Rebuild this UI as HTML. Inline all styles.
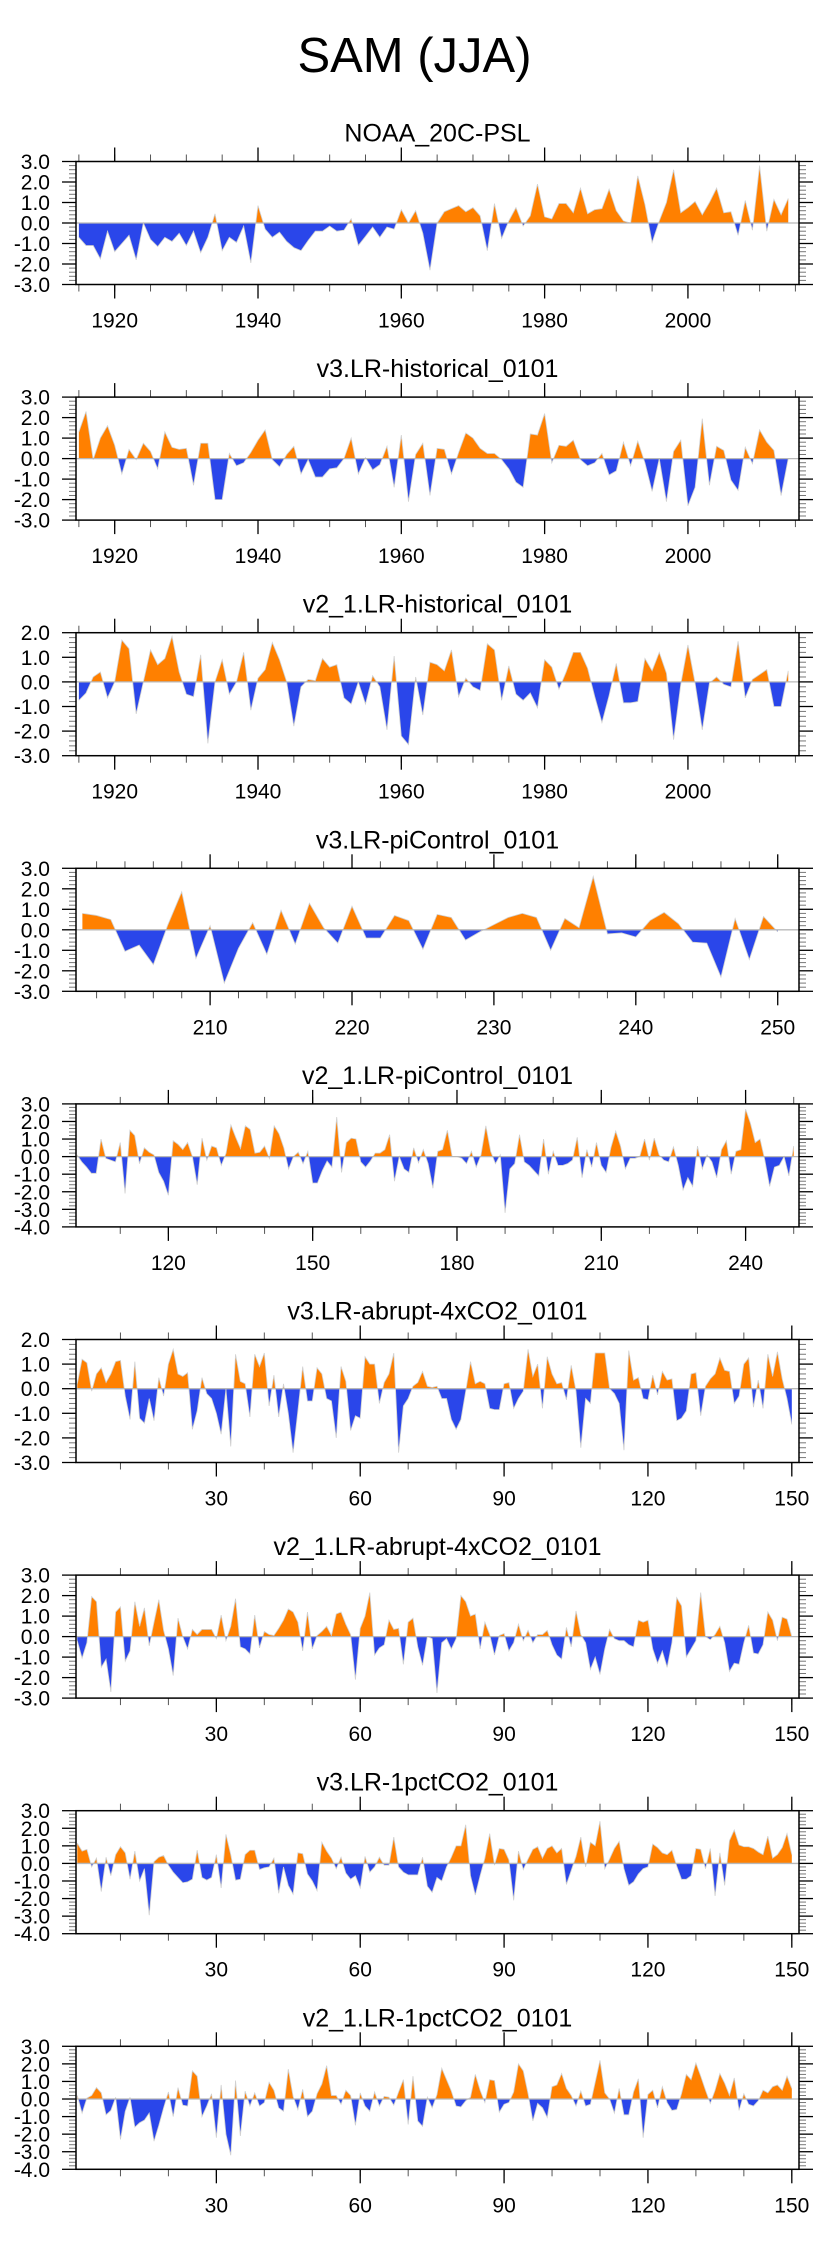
<!DOCTYPE html>
<html>
<head>
<meta charset="utf-8">
<title>SAM (JJA)</title>
<style>
  html, body { margin: 0; padding: 0; background: #ffffff; }
  body { width: 829px; height: 2245px; overflow: hidden; }
  svg { display: block; font-family: "Liberation Sans", sans-serif; }
</style>
</head>
<body>
<svg id="chart" xmlns="http://www.w3.org/2000/svg" width="829" height="2245" viewBox="0 0 829 2245">
  <rect x="0" y="0" width="829" height="2245" fill="#ffffff"/>
  <text x="414.5" y="72" text-anchor="middle" font-size="49" fill="#000">SAM (JJA)</text>
</svg>
<script>
const panelTitles = ["NOAA_20C-PSL","v3.LR-historical_0101","v2_1.LR-historical_0101","v3.LR-piControl_0101","v2_1.LR-piControl_0101","v3.LR-abrupt-4xCO2_0101","v2_1.LR-abrupt-4xCO2_0101","v3.LR-1pctCO2_0101","v2_1.LR-1pctCO2_0101"];

const histTickLabels = [1920,1940,1960,1980,2000];
const pi3TickLabels = [210,220,230,240,250];
const pi21TickLabels = [120,150,180,210,240];
const expTickLabels = [30,60,90,120,150];

const p1Values = [-0.7,-1.1,-1.1,-1.75,-0.4,-1.4,-1.0,-0.6,-1.8,0.0,-0.8,-1.15,-0.7,-0.9,-0.5,-1.1,-0.4,-1.45,-0.7,0.45,-1.35,-0.7,-0.95,-0.15,-1.95,0.85,-0.3,-0.7,-0.45,-0.9,-1.2,-1.35,-0.85,-0.4,-0.4,-0.15,-0.4,-0.35,0.2,-1.1,-0.65,-0.2,-0.7,-0.2,-0.3,0.65,0.0,0.6,-0.5,-2.3,0.0,0.55,0.7,0.85,0.55,0.75,0.35,-1.35,0.95,-0.75,0.1,0.75,-0.15,0.35,1.9,0.3,0.2,0.95,0.95,0.5,1.7,0.45,0.65,0.7,1.65,0.6,0.1,0.0,2.3,0.9,-0.95,0.1,1.0,2.6,0.5,0.75,1.05,0.4,1.0,1.7,0.5,0.55,-0.6,1.1,-0.35,2.8,-0.4,1.15,0.4,1.2];
const p2Values = [1.3,2.3,-0.05,1.0,1.6,0.65,-0.75,0.45,-0.05,0.75,0.35,-0.5,1.3,0.55,0.45,0.5,-1.3,0.75,0.75,-2.0,-2.0,0.25,-0.35,-0.2,0.3,0.9,1.4,-0.05,-0.4,0.2,0.6,-0.75,-0.05,-0.9,-0.9,-0.5,-0.45,0.0,1.0,-0.75,0.05,-0.55,-0.3,0.6,-1.4,1.15,-2.1,0.2,0.75,-1.8,0.5,0.45,-0.75,0.3,1.25,1.0,0.5,0.25,0.25,-0.05,-0.5,-1.15,-1.4,1.2,1.15,2.2,-0.2,0.65,0.6,0.9,-0.05,-0.35,-0.2,0.25,-0.8,-0.6,0.8,-0.35,0.85,-0.2,-1.6,0.0,-2.1,0.35,0.9,-2.3,-1.4,1.95,-1.3,0.6,0.4,-1.05,-1.55,0.55,-0.25,1.4,0.8,0.4,-1.8,0.0];
const p3Values = [-0.75,-0.45,0.2,0.4,-0.65,0.0,1.7,1.35,-1.3,0.0,1.3,0.7,0.95,1.85,0.4,-0.5,-0.6,1.1,-2.5,0.0,0.9,-0.5,0.0,1.2,-1.15,0.15,0.5,1.6,0.9,0.0,-1.8,-0.2,0.1,0.05,0.95,0.6,0.7,-0.65,-0.9,0.0,-0.9,0.25,-0.2,-1.95,1.05,-2.2,-2.55,0.2,-1.35,0.8,0.7,0.45,1.3,-0.6,0.15,-0.2,-0.35,1.55,1.3,-0.75,0.65,-0.5,-0.75,-0.45,-1.05,0.9,0.6,-0.3,0.4,1.2,1.2,0.55,-0.6,-1.65,-0.55,0.75,-0.85,-0.85,-0.8,0.95,0.45,1.2,0.35,-2.35,-0.1,1.5,-0.05,-1.95,-0.05,0.2,-0.1,-0.2,1.65,-0.65,0.1,0.3,0.5,-1.0,-1.0,0.45];
const p4Values = [0.8,0.7,0.5,-1.05,-0.75,-1.7,0.2,1.85,-1.4,0.2,-2.6,-0.9,0.35,-1.2,0.95,-0.7,1.3,0.1,-0.65,1.15,-0.4,-0.4,0.7,0.45,-0.95,0.75,0.6,-0.5,-0.1,0.25,0.6,0.8,0.6,-1.0,0.55,0.1,2.6,-0.2,-0.15,-0.35,0.45,0.85,0.3,-0.6,-0.65,-2.3,0.55,-1.45,0.65,-0.1];
const p5Values = [0.1,-0.3,-0.6,-0.95,-0.95,1.0,-0.1,-0.2,-0.3,0.8,-2.1,1.5,1.2,-0.4,0.5,0.25,0.1,-0.9,-1.4,-2.2,0.9,0.7,0.4,0.8,0.0,-1.6,1.05,-0.2,0.6,0.5,-0.5,0.2,1.8,1.1,0.45,1.75,1.55,0.2,0.25,0.6,-0.1,1.75,1.3,0.5,-0.7,0.0,0.25,-0.4,0.3,-1.5,-1.5,-0.8,-0.25,-0.6,2.25,-0.9,0.8,1.05,1.0,-0.3,-0.6,-0.25,0.2,0.2,0.4,1.25,-1.4,0.0,-0.7,-0.9,0.5,-0.35,0.4,-0.4,-1.8,0.3,0.4,1.5,0.0,0.0,-0.1,-0.4,0.3,-0.6,0.1,1.75,0.3,-0.4,0.1,-3.2,-0.7,-0.4,1.25,-0.3,-0.5,-0.8,-1.1,1.0,-1.0,0.3,-0.5,-0.5,-0.4,-0.2,1.1,-1.2,0.4,-0.6,0.8,-0.5,-0.9,0.5,1.45,0.6,-0.7,-0.1,-0.1,0.0,1.0,-0.2,1.05,0.1,-0.2,-0.3,0.55,-0.5,-1.9,-1.2,-1.7,0.6,-0.7,0.1,-0.3,-1.2,0.4,0.9,-1.0,0.3,0.4,2.7,1.9,0.8,1.0,-0.2,-1.7,-0.6,-0.5,0.0,-1.1,0.6];
const p6Values = [0.2,1.2,1.05,-0.1,0.6,0.85,0.25,0.6,1.1,1.15,-0.3,-1.25,1.1,-1.2,-1.4,-0.4,-1.3,0.45,-0.3,1.0,1.6,0.6,0.5,0.65,-1.65,-0.9,0.45,-0.2,-0.4,-1.0,-1.85,0.0,-2.35,1.4,0.3,0.2,-1.15,1.4,0.9,1.45,-0.7,0.55,-1.15,0.2,-1.0,-2.6,-0.9,0.9,-0.5,-0.5,0.85,0.6,-0.4,-0.5,-2.0,0.9,0.3,-1.7,-1.1,-1.2,1.3,1.0,1.0,-0.6,0.25,0.6,1.45,-2.6,-0.7,-0.4,0.1,0.25,0.7,0.1,0.05,0.1,-0.4,-0.4,-1.25,-1.65,-1.25,-0.1,1.1,0.2,0.3,0.2,-0.8,-0.85,-0.85,0.2,0.25,-0.8,-0.4,-0.1,1.6,0.5,1.0,-0.8,1.3,0.6,0.2,0.25,-0.45,0.95,-0.1,-2.4,-0.4,-0.6,1.45,1.45,1.45,0.0,-0.2,-0.6,-2.5,1.55,0.35,0.45,-0.4,-0.45,0.55,-0.25,0.7,0.35,0.4,-1.3,-1.2,-0.9,0.6,0.65,-1.1,0.1,0.4,0.6,1.25,0.75,0.7,-0.6,-0.3,1.0,1.25,-0.75,0.35,-0.8,1.4,0.5,1.5,0.4,-0.4,-1.45];
const p7Values = [-0.2,-1.05,-0.3,1.95,1.7,-1.5,-1.1,-2.7,1.2,1.45,-1.2,-0.7,1.7,0.5,1.4,-0.45,0.7,1.8,0.3,-0.6,-1.9,0.9,0.0,-0.6,0.35,0.1,0.35,0.35,0.35,-0.1,1.05,-0.2,0.5,1.85,-0.5,-0.6,-0.85,1.05,-0.55,0.25,0.1,0.05,0.4,0.8,1.35,1.2,0.7,-0.7,1.2,-0.6,0.05,0.25,0.5,0.05,1.1,1.2,0.6,0.1,-2.1,0.4,1.0,2.15,-0.9,-0.55,-0.4,0.8,0.35,0.4,-1.35,0.7,0.9,-0.5,-1.4,0.0,-0.1,-2.75,-0.3,-0.1,-0.6,-0.1,2.0,1.7,1.0,1.1,-0.6,0.7,0.1,-0.9,0.05,0.15,-0.7,-0.3,0.6,-0.2,0.3,-0.3,0.1,0.1,0.3,-0.4,-0.9,-1.1,0.45,-0.5,1.25,0.1,-0.3,-1.6,-1.0,-1.85,-0.6,0.35,-0.1,-0.2,-0.2,-0.4,-0.5,0.8,0.7,0.8,-0.6,-1.3,-0.7,-1.5,-0.3,1.9,1.5,-1.0,-0.6,-0.2,2.15,0.0,-0.15,0.1,0.5,-0.3,-1.7,-1.3,-1.35,-0.3,0.55,-0.8,-0.85,-0.4,1.2,0.8,-0.2,0.95,0.85,0.0];
const p8Values = [1.15,0.7,0.8,-0.2,0.3,-1.6,0.35,-0.7,0.5,0.95,0.6,-0.9,0.7,-1.0,-0.3,-2.95,0.1,0.35,0.45,-0.1,-0.5,-0.8,-1.1,-1.05,-0.9,0.75,-0.8,-0.95,-0.8,0.5,-1.4,1.65,0.5,-0.95,-0.9,0.5,0.75,0.75,-0.35,-0.25,-0.2,0.3,-1.7,-0.2,-1.25,-1.75,0.6,0.55,-0.6,-1.0,-1.55,1.2,0.7,0.3,-0.3,0.35,-0.55,-0.9,-0.7,-1.4,0.4,-0.5,-0.2,0.35,-0.1,-0.1,1.5,-0.2,-0.5,-0.65,-0.65,-0.65,0.35,-1.3,-1.65,-0.8,-1.0,-0.2,0.35,1.0,1.0,2.2,-0.7,-1.8,-0.7,0.3,1.7,-0.1,0.85,0.8,0.2,-2.1,0.7,-0.35,0.25,0.8,0.95,0.3,0.85,1.0,0.6,0.85,-1.2,-0.4,0.4,1.5,-0.2,1.2,1.0,2.4,-0.3,0.25,0.85,1.25,-0.3,-1.25,-1.05,-0.6,-0.3,-0.2,1.1,0.9,0.6,0.5,0.75,-0.15,-0.9,-0.9,-0.7,0.85,0.8,-0.3,0.85,-1.85,0.6,-1.25,1.3,1.9,1.05,0.95,0.95,0.85,0.65,0.5,1.55,0.3,0.5,0.9,1.7,0.5];
const p9Values = [0.2,-0.8,0.05,0.2,0.65,0.35,-0.9,-0.65,0.1,-2.3,-0.7,0.1,-1.6,-1.35,-1.2,-0.8,-2.4,-1.5,-0.5,0.4,-1.0,0.65,-0.35,-0.4,1.6,1.3,-1.0,-0.4,0.3,-2.2,0.8,-2.0,-3.2,1.05,-2.1,0.45,-0.4,0.35,-0.4,-0.2,0.95,0.5,-0.5,-0.7,1.7,0.15,-0.6,0.55,-1.0,-0.7,0.3,0.85,1.9,0.2,0.2,-0.3,0.5,0.2,-1.5,0.35,-0.4,-0.7,0.4,-0.4,0.15,0.1,-0.35,0.4,1.1,-1.45,1.3,-1.25,-1.55,0.1,-0.5,0.25,1.75,1.1,0.45,-0.4,-0.45,-0.1,0.1,1.4,0.5,-0.2,1.1,1.05,-0.75,-0.3,-0.2,0.4,2.0,1.6,0.3,-1.25,-0.25,-0.5,-1.05,0.7,0.8,1.45,0.6,0.2,-0.4,0.45,-0.4,-0.3,0.95,2.2,0.35,0.0,-0.8,0.6,-0.9,-0.9,0.4,1.15,-2.2,0.25,0.5,-0.5,0.7,-0.2,-0.65,-0.6,0.3,1.4,1.1,2.05,1.3,0.5,-0.25,0.5,1.45,0.9,0.2,1.2,-0.65,0.3,-0.3,-0.4,-0.1,0.5,0.35,0.7,0.8,0.5,1.3,0.6];

const panelValues = [p1Values,p2Values,p3Values,p4Values,p5Values,p6Values,p7Values,p8Values,p9Values];
const panelStartYears = [1915,1915,1915,201,101,1,1,1,1];
const panelXRanges = [[1914.6,2015.5],[1914.6,2015.5],[1914.6,2015.5],[200.55,251.5],[100.8,251.1],[0.73,151.5],[0.73,151.5],[0.73,151.5],[0.73,151.5]];
const panelYRanges = [[-3,3],[-3,3],[-3,2],[-3,3],[-4,3],[-3,2],[-3,3],[-4,3],[-4,3]];
const panelTickLabels = [histTickLabels,histTickLabels,histTickLabels,pi3TickLabels,pi21TickLabels,expTickLabels,expTickLabels,expTickLabels,expTickLabels];
const panelMinorSteps = [5,5,5,2,10,10,10,10,10];

const NS = "http://www.w3.org/2000/svg";
const svg = document.getElementById("chart");
const L = 76, R = 799, H = 123, TOP0 = 161.5, STEP = 235.6;
const ORANGE = "#FF8000", BLUE = "#2A46EA";

function mk(tag, attrs, parent) {
  const e = document.createElementNS(NS, tag);
  for (const k in attrs) e.setAttribute(k, attrs[k]);
  parent.appendChild(e);
  return e;
}

function drawPanel(i) {
  const top = TOP0 + i * STEP;
  const bottom = top + H;
  const xr = panelXRanges[i], yr = panelYRanges[i];
  const sx = v => L + (v - xr[0]) / (xr[1] - xr[0]) * (R - L);
  const sy = v => top + (yr[1] - v) / (yr[1] - yr[0]) * H;
  const vals = panelValues[i];
  const start = panelStartYears[i];

  const g = mk("g", {}, svg);
  
  

  const title = mk("text", {x: (L + R) / 2, y: top - 20, "text-anchor": "middle", "font-size": 25, fill: "#000"}, g);
  title.textContent = panelTitles[i];
  
  

  const defs = mk("defs", {}, g);
  const z = sy(0);
  const cpA = mk("clipPath", {id: "ca" + i}, defs);
  mk("rect", {x: L, y: top, width: R - L, height: z - top}, cpA);
  const cpB = mk("clipPath", {id: "cb" + i}, defs);
  mk("rect", {x: L, y: z, width: R - L, height: bottom - z}, cpB);

  let pts = [];
  for (let k = 0; k < vals.length; k++) {
    pts.push(sx(start + k).toFixed(2) + "," + sy(vals[k]).toFixed(2));
  }
  const area = "M" + sx(start).toFixed(2) + "," + z.toFixed(2) + " L" + pts.join(" L") + " L" + sx(start + vals.length - 1).toFixed(2) + "," + z.toFixed(2) + " Z";

  const pos = mk("path", {d: area, fill: ORANGE, "clip-path": "url(#ca" + i + ")"}, g);
  
  
  const neg = mk("path", {d: area, fill: BLUE, "clip-path": "url(#cb" + i + ")"}, g);
  
  
  const line = mk("polyline", {points: pts.join(" "), fill: "none", stroke: "#d0d0d0", "stroke-width": 0.8}, g);
  
  

  const zl = mk("line", {x1: L, x2: R, y1: z, y2: z, stroke: "#b8b8b8", "stroke-width": 1.3}, g);
  
  

  const ticks = mk("g", {stroke: "#000"}, g);
  
  
  const ms = panelMinorSteps[i];
  const firstMinor = Math.ceil(xr[0] / ms) * ms;
  for (let v = firstMinor; v <= xr[1]; v += ms) {
    const x = sx(v);
    mk("line", {x1: x, x2: x, y1: top, y2: top - 7, "stroke-width": 1, stroke: "#555"}, ticks);
    mk("line", {x1: x, x2: x, y1: bottom, y2: bottom + 7, "stroke-width": 1, stroke: "#555"}, ticks);
  }
  const labels = panelTickLabels[i];
  for (let k = 0; k < labels.length; k++) {
    const x = sx(labels[k]);
    mk("line", {x1: x, x2: x, y1: top, y2: top - 14, "stroke-width": 1.3}, ticks);
    mk("line", {x1: x, x2: x, y1: bottom, y2: bottom + 14, "stroke-width": 1.3}, ticks);
    const t = mk("text", {x: x, y: bottom + 43, "text-anchor": "middle", "font-size": 21, fill: "#000", stroke: "none"}, g);
    t.textContent = String(labels[k]);
    
    
  }
  const nMinorY = Math.round((yr[1] - yr[0]) / 0.2);
  for (let k = 0; k <= nMinorY; k++) {
    const v = yr[0] + k * 0.2;
    const y = sy(v);
    const major = (k % 5 === 0);
    if (major) {
      mk("line", {x1: L, x2: L - 14, y1: y, y2: y, "stroke-width": 1.3}, ticks);
      mk("line", {x1: R, x2: R + 14, y1: y, y2: y, "stroke-width": 1.3}, ticks);
      const t = mk("text", {x: 50, y: y + 7.5, "text-anchor": "end", "font-size": 21, fill: "#000", stroke: "none"}, g);
      t.textContent = Math.round(v).toFixed(1);
      
      
    } else {
      mk("line", {x1: L, x2: L - 7, y1: y, y2: y, "stroke-width": 1, stroke: "#777"}, ticks);
      mk("line", {x1: R, x2: R + 7, y1: y, y2: y, "stroke-width": 1, stroke: "#777"}, ticks);
    }
  }

  const frame = mk("rect", {x: L, y: top, width: R - L, height: H, fill: "none", stroke: "#000", "stroke-width": 1.5}, g);
  
  
}

for (let i = 0; i < panelValues.length; i++) drawPanel(i);
</script>
</body>
</html>
